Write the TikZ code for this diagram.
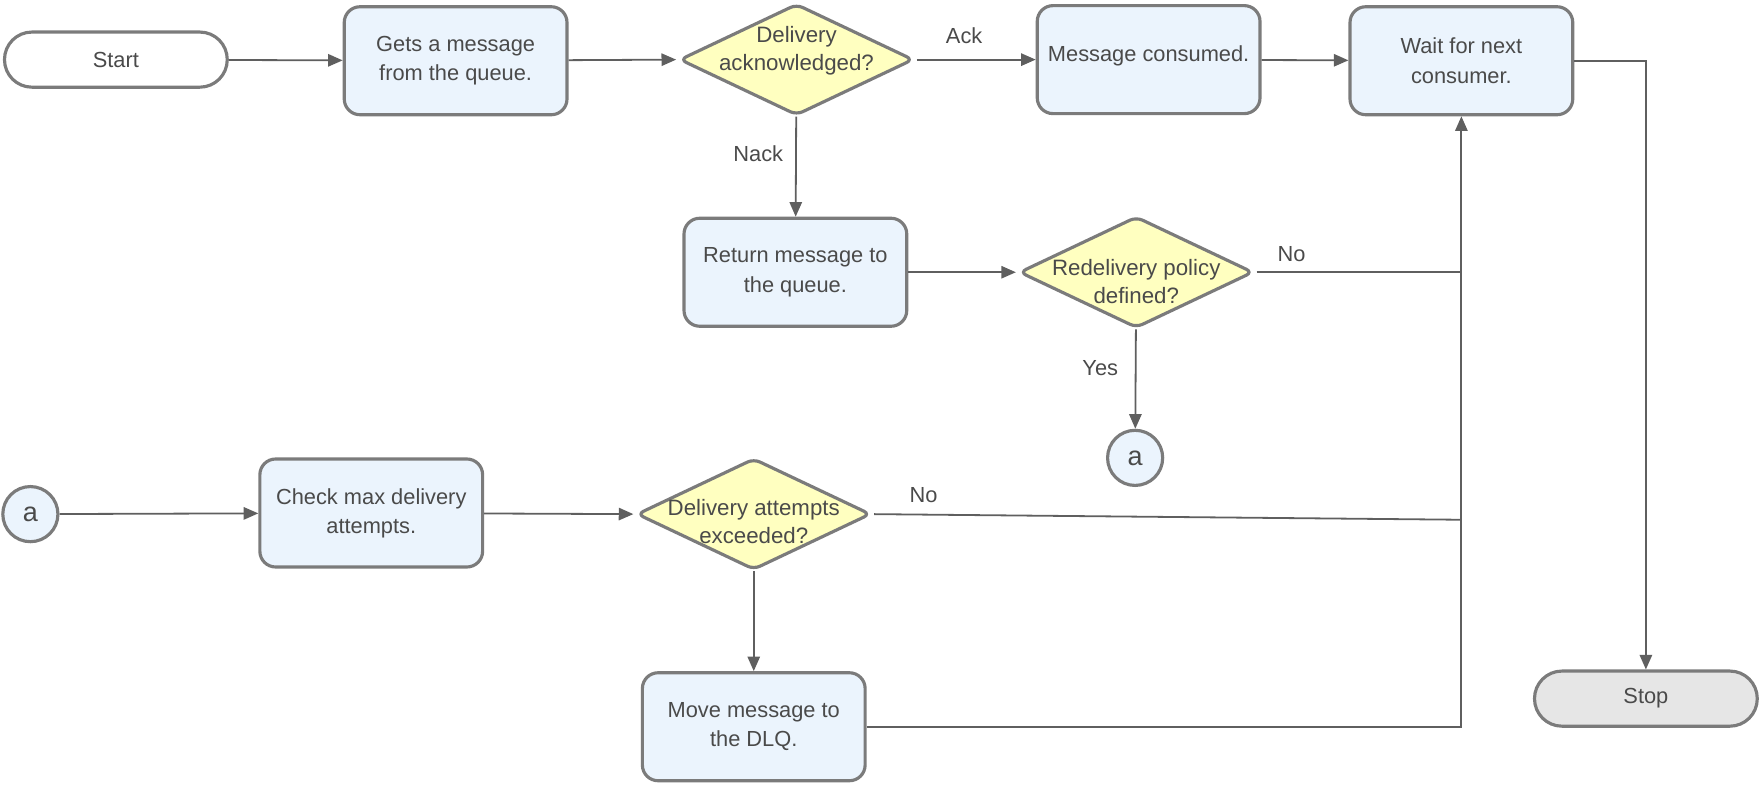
\documentclass[tikz,border=0pt]{standalone}
\usepackage{fontspec}
\setmainfont{Liberation Sans}
\usetikzlibrary{shapes.geometric,arrows.meta}
\definecolor{bordc}{HTML}{7B7B7B}
\definecolor{linec}{HTML}{5F5F5F}
\definecolor{txtc}{HTML}{4A4A4A}
\definecolor{boxc}{HTML}{EBF4FD}
\definecolor{decc}{HTML}{FFFFC0}
\definecolor{stopc}{HTML}{E6E6E6}
\begin{document}
\begin{tikzpicture}[x=0.5pt,y=-0.5pt,
  font=\fontsize{9.7}{13}\selectfont, text=txtc,
  proc/.style={draw=bordc, line width=1.4pt, fill=boxc, rounded corners=7pt,
    minimum width=99pt, minimum height=48pt, align=center, inner sep=2pt},
  dec/.style={diamond, draw=bordc, line width=1.4pt, fill=decc, rounded corners=3pt,
    minimum width=104pt, minimum height=49.5pt, inner sep=0pt},
  term/.style={draw=bordc, line width=1.4pt, rounded corners=12.2pt,
    minimum width=99pt, minimum height=24.5pt},
  conn/.style={circle, draw=bordc, line width=1.4pt, fill=boxc, minimum size=24.5pt,
    inner sep=0pt, font=\fontsize{12}{14}\selectfont},
  arr/.style={draw=linec, line width=0.8pt, -{Triangle[length=6.5pt,width=5.5pt]}},
  ln/.style={draw=linec, line width=0.8pt},
  lbl/.style={font=\fontsize{9.7}{12}\selectfont, text=txtc},
  dtext/.style={align=center, text=txtc, font=\fontsize{9.9}{12.5}\selectfont}]
\useasboundingbox (0,0) rectangle (1568,699);

% nodes
\node[term, fill=white] (start) at (103,53) {Start};
\node[proc] (gets) at (405,54) {Gets a message\\from the queue.};
\node[dec, label={[dtext,yshift=4pt]center:{Delivery\\acknowledged?}}] (d1) at (708,53) {};
\node[proc] (mc) at (1021,53) {\raisebox{5pt}{Message consumed.}};
\node[proc] (wait) at (1299,54) {Wait for next\\consumer.};
\node[proc] (ret) at (707,242) {Return message to\\the queue.};
\node[dec, label={[dtext,yshift=-4.2pt]center:{Redelivery policy\\defined?}}] (d2) at (1010,242) {};
\node[conn] (a1) at (1009,407) {a};
\node[conn] (a2) at (27,457) {a};
\node[proc] (chk) at (330,456) {Check max delivery\\attempts.};
\node[dec, label={[dtext,yshift=-3.2pt]center:{Delivery attempts\\exceeded?}}] (d3) at (670,457) {};
\node[proc] (dlq) at (670,646) {Move message to\\the DLQ.};
\node[term, fill=stopc] (stop) at (1463,621) {Stop};

% labels
\node[lbl] (lack) at (857,32) {Ack};
\node[lbl] (lnack) at (674,137) {Nack};
\node[lbl] (lno1) at (1148,226) {No};
\node[lbl] (lyes) at (978,327) {Yes};
\node[lbl] (lno2) at (821,440) {No};

% junctions
\coordinate (j1) at (1299,242);
\coordinate (j2) at (1299,462);

% connectors
\draw[arr] (start) -- (gets);
\draw[arr, shorten >=0.8pt] (gets) -- (d1.west);
\draw[arr, shorten <=0.8pt] (d1.east) -- (mc);
\draw[arr] (mc) -- (wait);
\draw[arr] (wait.east) -| (stop.north);
\draw[arr] (d1) -- (ret);
\draw[arr, shorten >=0.8pt] (ret) -- (d2.west);
\draw[ln, shorten <=0.8pt] (d2.east) -- (j1);
\draw[arr] (d2) -- (a1);
\draw[arr] (a2) -- (chk);
\draw[arr, shorten >=0.8pt] (chk) -- (d3.west);
\draw[ln, shorten <=0.8pt] (d3.east) -- (j2);
\draw[arr] (d3) -- (dlq);
\draw[arr] (dlq.east) -| (wait.south);
\end{tikzpicture}
\end{document}
